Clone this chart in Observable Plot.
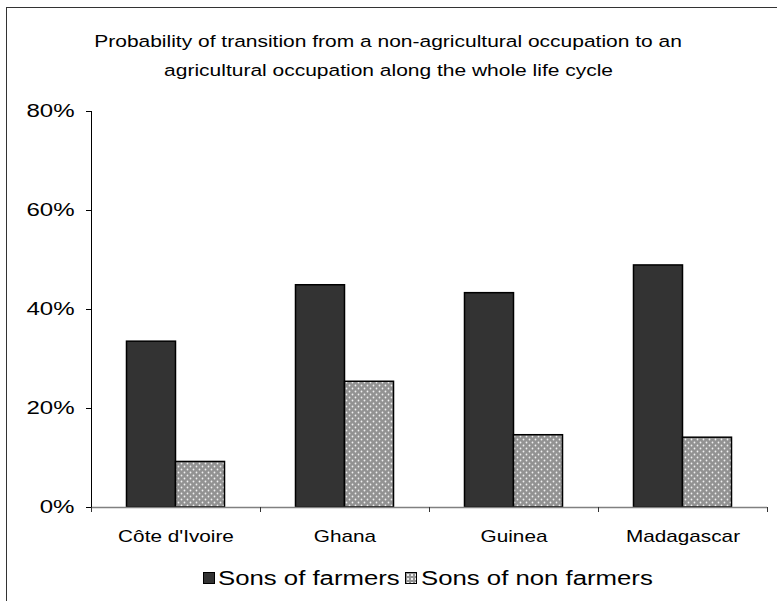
<!DOCTYPE html>
<html><head><meta charset="utf-8">
<script src="https://cdn.jsdelivr.net/npm/d3@7"></script>
<script src="https://cdn.jsdelivr.net/npm/@observablehq/plot@0.6"></script>
<style>
body{margin:0;background:#fff;font-family:"Liberation Sans",Arial,sans-serif;}
#wrap{position:relative;width:777px;height:601px;overflow:hidden;background:#fff}
#frame{position:absolute;left:6px;top:7px;width:800px;height:700px;border-left:1.5px solid #333;border-top:1.5px solid #333}
#title{position:absolute;left:0;top:27px;width:777px;text-align:center;font-size:16.8px;line-height:29px;color:#000}
#title span{display:inline-block;transform:scaleX(1.25);white-space:nowrap}
#chart{position:absolute;left:0;top:0}
.lg{position:absolute;font-size:19.5px;line-height:20px;white-space:nowrap;transform-origin:0 0;transform:scaleX(1.32);color:#000}
.sw{position:absolute;width:10px;height:10px;border:1px solid #000;box-sizing:content-box}
</style></head>
<body>
<div id="wrap">
  <div id="frame"></div>
  <div id="title"><span id="t1"></span><br><span id="t2"></span></div>
  <div id="chart"></div>
  <div class="sw" id="sw1" style="left:203px;top:572px;background:#333"></div>
  <div class="lg" id="lg1" style="left:218px;top:568px"></div>
  <div class="sw" id="sw2" style="left:405px;top:572px;background-color:#929292;background-image:radial-gradient(circle,#f0f0f0 0.8px,transparent 1.3px);background-size:4px 4px"></div>
  <div class="lg" id="lg2" style="left:421px;top:568px"></div>
</div>
<script>
const titleLines = ["Probability of transition from a non-agricultural occupation to an",
                    "agricultural occupation along the whole life cycle"];
const countries = ["Côte d'Ivoire", "Ghana", "Guinea", "Madagascar"];
const seriesNames = ["Sons of farmers", "Sons of non farmers"];
const sonsOfFarmers = [0.335, 0.449, 0.433, 0.489];
const sonsOfNonFarmers = [0.092, 0.254, 0.146, 0.141];
const yTicks = [0, 0.2, 0.4, 0.6, 0.8];

document.getElementById("t1").textContent = titleLines[0];
document.getElementById("t2").textContent = titleLines[1];
document.getElementById("lg1").textContent = seriesNames[0];
document.getElementById("lg2").textContent = seriesNames[1];

const rows = countries.flatMap((c, i) => [
  {country: c, i, s: 0, series: seriesNames[0], value: sonsOfFarmers[i]},
  {country: c, i, s: 1, series: seriesNames[1], value: sonsOfNonFarmers[i]}
]);
const groupOffset = 0.21, barW = 0.29;
const bx1 = d => d.i + groupOffset + d.s * barW;
const bx2 = d => d.i + groupOffset + (d.s + 1) * barW;

const chart = Plot.plot({
  width: 777, height: 560,
  marginTop: 111, marginBottom: 53, marginLeft: 91, marginRight: 10,
  style: {fontFamily: "'Liberation Sans', Arial, sans-serif", background: "transparent", overflow: "visible", color: "#000"},
  x: {domain: [0, countries.length], axis: null},
  y: {domain: [0, 0.8], axis: null},
  marks: [
    Plot.rectY(rows.filter(d => d.s === 0), {x1: bx1, x2: bx2, y1: 0, y2: "value", fill: "#333", stroke: "#000", strokeWidth: 1.5}),
    Plot.rectY(rows.filter(d => d.s === 1), {x1: bx1, x2: bx2, y1: 0, y2: "value", fill: "#929292", stroke: "#000", strokeWidth: 1.5}),
    Plot.ruleY([0], {stroke: "#808080", strokeWidth: 1.5}),
    Plot.ruleX([0], {stroke: "#000", strokeWidth: 1}),
    Plot.axisY({ticks: yTicks, tickFormat: d => Math.round(d * 100) + "%", tickSize: 5, tickPadding: 12, fontSize: 18.5, stroke: "#000", fill: "#000", label: null}),
    Plot.axisX({ticks: countries.map((c, i) => i + 0.5), tickFormat: d => countries[Math.floor(d)], tickSize: 0, tickPadding: 22, fontSize: 17, fill: "#000", label: null}),
    Plot.axisX({ticks: d3.range(countries.length + 1), tickFormat: () => "", tickSize: 5, stroke: "#333", label: null})
  ]
});
document.getElementById("chart").appendChild(chart);

// dotted pattern for the second series
const svg = d3.select(chart);
const defs = svg.insert("defs", ":first-child");
const pat = defs.append("pattern").attr("id", "dots").attr("width", 6).attr("height", 6).attr("patternUnits", "userSpaceOnUse");
pat.append("rect").attr("width", 6).attr("height", 6).attr("fill", "#929292");
pat.append("circle").attr("cx", 1.5).attr("cy", 1.5).attr("r", 0.9).attr("fill", "#f0f0f0");
pat.append("circle").attr("cx", 4.5).attr("cy", 4.5).attr("r", 0.9).attr("fill", "#f0f0f0");
const rectGroups = chart.querySelectorAll('g[aria-label="rect"]');
if (rectGroups[1]) {
  rectGroups[1].setAttribute("fill", "url(#dots)");
  rectGroups[1].querySelectorAll("rect").forEach(r => r.removeAttribute("fill"));
}

// widen tick labels horizontally like the reference
function widen(selector, k) {
  chart.querySelectorAll(selector).forEach(t => {
    const w = t.getComputedTextLength();
    if (w > 0) {
      t.setAttribute("textLength", (w * k).toFixed(1));
      t.setAttribute("lengthAdjust", "spacingAndGlyphs");
    }
  });
}
widen('g[aria-label="y-axis tick label"] text', 1.3);
widen('g[aria-label="x-axis tick label"] text', 1.22);
</script>
</body></html>
